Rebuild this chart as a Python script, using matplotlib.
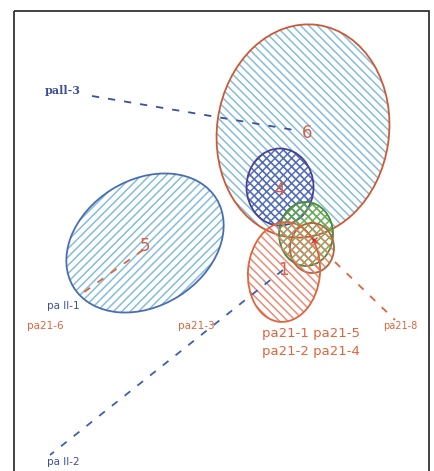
import matplotlib.pyplot as plt
from matplotlib.patches import Ellipse, Rectangle

# Data (picture coordinates, y grows downward)
clusters = ['6', '5', '4', 'g', 'b', '1']
cx = [303, 145, 280, 306, 312, 284]
cy = [131, 243, 187, 234, 248, 272]
cw = [172, 168, 67, 54, 44, 72]
ch = [214, 126, 77, 64, 50, 100]
cang = [8, -32, 0, 0, 0, 5]
edge_cols = ['#cc5a36', '#4a6db4', '#4b3f96', '#4f8a3c', '#b0653a', '#e0643c']
hatch_cols = ['#78b6d8', '#78b6d8', '#4a62b4', '#62a848', '#e58060', '#e8806a']
hatches = ['\\\\\\\\', '////', 'xxxx', 'xxxx', '\\\\\\\\', '\\\\\\\\']

center_labels = ['6', '5', '4', '1']
center_x = [307, 145, 280, 283]
center_y = [133, 246, 190, 270]

# leader lines: start (x, y), end (x, y), colour
lines_x0 = [92, 143, 283, 335]
lines_y0 = [96, 250, 270, 262]
lines_x1 = [300, 80, 50, 395]
lines_y1 = [131, 295, 455, 320]
lines_col = ['#3d4f9a', '#e0643c', '#3d5fb0', '#e0643c']

point_labels = ['pall-3', 'pa ll-1', 'pa21-6', 'pa21-3', 'pa21-8',
                'pa21-1 pa21-5', 'pa21-2 pa21-4', 'pa ll-2']
label_x = [45, 47, 27, 178, 383, 262, 262, 47]
label_y = [90, 306, 326, 326, 326, 333, 352, 462]
label_col = ['#3d4f9a', '#3d4f9a', '#e0643c', '#e0643c', '#e0643c',
             '#e0643c', '#e0643c', '#3d4f9a']
label_size = [8, 7.5, 7.5, 7.5, 7, 9.5, 9.5, 7.5]

plt.rcParams['hatch.linewidth'] = 1.1
fig = plt.figure(figsize=(4.35, 4.71), dpi=100)
ax = fig.add_axes([0, 0, 1, 1])
ax.set_xlim(0, 435)
ax.set_ylim(471, 0)
ax.axis('off')

ax.add_patch(Rectangle((14, 11), 415, 470, fill=False, ec='#222222', lw=1.2))

for i in range(len(clusters)):
    ax.add_patch(Ellipse((cx[i], cy[i]), cw[i], ch[i], angle=cang[i],
                         fill=False, hatch=hatches[i], ec=hatch_cols[i], lw=0, alpha=0.9))
    ax.add_patch(Ellipse((cx[i], cy[i]), cw[i], ch[i], angle=cang[i],
                         fill=False, ec=edge_cols[i], lw=1.3))

for i in range(len(lines_x0)):
    ax.plot([lines_x0[i], lines_x1[i]], [lines_y0[i], lines_y1[i]],
            ls=(0, (4, 5)), color=lines_col[i], lw=1.3)

for i in range(len(center_labels)):
    ax.text(center_x[i], center_y[i], center_labels[i], color='#d86048',
            fontsize=12, ha='center', va='center')
ax.plot([314], [240], marker='x', color='#e03030', ms=5)

for i in range(len(point_labels)):
    fam = 'DejaVu Serif' if i == 0 else 'DejaVu Sans'
    ax.text(label_x[i], label_y[i], point_labels[i], color=label_col[i],
            fontsize=label_size[i], family=fam, ha='left', va='center',
            fontweight='bold' if i == 0 else 'normal')

plt.savefig('out.png', dpi=100)
